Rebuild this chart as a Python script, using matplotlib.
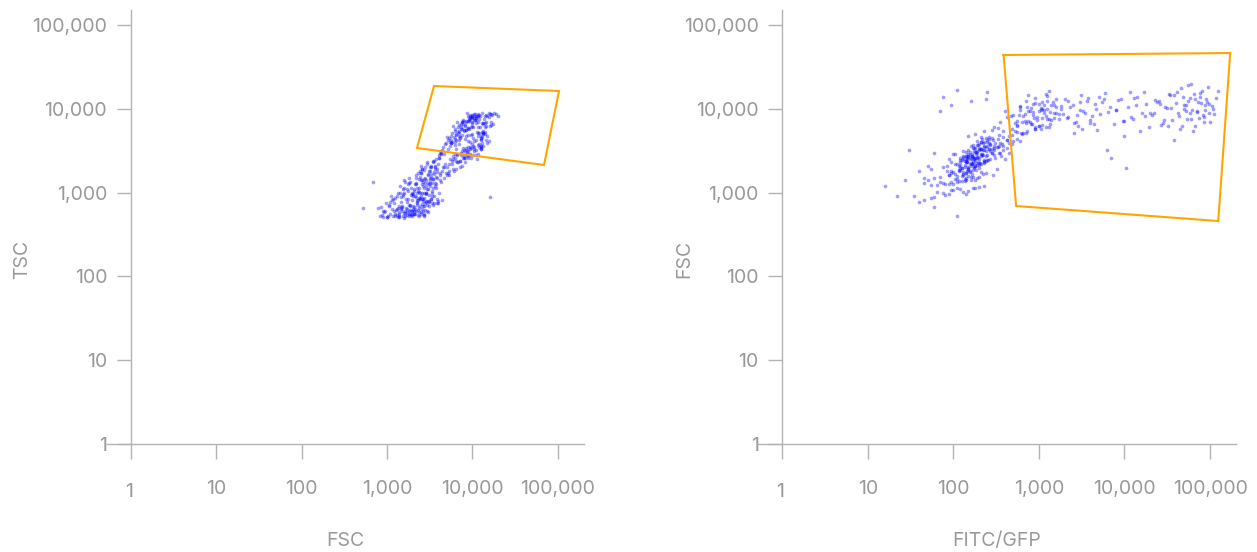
import numpy as np
import matplotlib
matplotlib.use("Agg")
import matplotlib.pyplot as plt
from matplotlib.ticker import NullLocator
from matplotlib.transforms import ScaledTranslation

plt.rcParams['font.family'] = ['Inter', 'DejaVu Sans']

# ---------------- data ----------------
# group A1: small events
a1_fsc = [820, 950, 1100, 880, 1050, 1180, 990, 1150, 900, 1020,
          1120, 860, 1080, 970, 1190, 930, 1060, 1010, 1140, 780]
a1_tsc = [520, 610, 780, 540, 700, 850, 510, 640, 600, 530,
          900, 680, 550, 760, 520, 590, 720, 505, 820, 650]
a1_fitc = [45, 90, 120, 60, 150, 200, 75, 110, 35, 130,
           170, 55, 95, 140, 230, 80, 100, 65, 180, 40]

# group A2
a2_fsc = [1250, 1320, 1400, 1480, 1550, 1620, 1700, 1780, 1860, 1950,
          1280, 1350, 1430, 1500, 1580, 1650, 1730, 1810, 1900, 1980,
          1220, 1380, 1460, 1530, 1600, 1680, 1760, 1840, 1920, 1300,
          1420, 1510, 1590, 1660, 1740, 1820, 1880, 1960, 1240, 1360,
          1450, 1540, 1630, 1710, 1790, 1870, 1940, 1260, 1390, 1570]
a2_tsc = [560, 900, 510, 650, 1100, 600, 540, 1250, 700, 820,
          620, 505, 980, 690, 570, 1350, 640, 520, 1150, 600,
          760, 580, 880, 530, 1400, 660, 1050, 550, 930, 640,
          1200, 610, 500, 850, 590, 1500, 720, 530, 530, 1000,
          640, 950, 570, 780, 1300, 620, 560, 870, 520, 1150]
a2_fitc = [80, 110, 140, 45, 170, 130, 95, 210, 150, 120,
           100, 70, 160, 190, 125, 105, 240, 145, 55, 175,
           55, 115, 135, 200, 90, 165, 155, 120, 320, 75,
           180, 140, 110, 220, 130, 95, 185, 150, 65, 125,
           105, 160, 290, 140, 115, 170, 200, 90, 135, 150]

# group A3
a3_fsc = [2020, 2080, 2150, 2210, 2280, 2350, 2420, 2490, 2560, 2640,
          2710, 2790, 2870, 2950, 2050, 2120, 2190, 2260, 2330, 2400,
          2470, 2540, 2610, 2690, 2770, 2850, 2930, 2000, 2100, 2230,
          2300, 2380, 2450, 2520, 2600, 2680, 2750, 2830, 2910, 2990,
          2060, 2170, 2240, 2320, 2440, 2500, 2580, 2660, 2740, 2820,
          2900, 2040, 2140, 2270, 2360, 2430, 2510, 2620, 2700, 2800,
          2880, 2960, 2200, 2550, 2720]
a3_tsc = [700, 1100, 560, 1500, 780, 650, 1800, 920, 740, 1350,
          860, 2000, 990, 600, 610, 1250, 1600, 720, 540, 1020,
          840, 1700, 690, 530, 1300, 780, 2200, 900, 560, 1000,
          620, 1450, 870, 580, 1900, 800, 540, 1200, 720, 1650,
          670, 1300, 820, 1050, 1550, 560, 1000, 600, 1850, 760,
          1400, 640, 910, 1150, 520, 990, 2100, 850, 700, 1500,
          960, 2300, 600, 1250, 550]
a3_fitc = [150, 180, 120, 210, 160, 95, 250, 140, 175, 190,
           130, 300, 165, 60, 85, 200, 155, 230, 145, 170,
           125, 270, 190, 150, 210, 105, 340, 135, 50, 185,
           140, 240, 120, 175, 310, 195, 150, 220, 100, 280,
           115, 165, 205, 145, 255, 90, 180, 130, 360, 215,
           150, 75, 190, 170, 135, 225, 400, 160, 140, 250,
           185, 450, 110, 200, 165]

# group A4
a4_fsc = [3050, 3150, 3250, 3350, 3450, 3560, 3670, 3780, 3900, 4020,
          4150, 4280, 4420, 3100, 3200, 3300, 3400, 3500, 3620, 3740,
          3860, 3980, 4100, 4230, 4370, 4480, 3080, 3180, 3280, 3380,
          3480, 3590, 3700, 3820, 3950, 4070, 4200, 4330, 4450, 3020,
          3220, 3420, 3640, 3880, 4120, 4350, 3320, 3530, 3760, 4000]
a4_tsc = [1100, 1800, 850, 1300, 2300, 750, 1900, 1250, 850, 2600,
          1400, 3000, 1800, 800, 1200, 1550, 900, 720, 2000, 1150,
          1750, 750, 2800, 1600, 3200, 2000, 780, 1300, 1650, 980,
          1450, 2400, 1200, 760, 2200, 1000, 1700, 2900, 820, 800,
          1400, 1150, 2100, 1900, 2600, 1350, 850, 1750, 2500, 800]
a4_fitc = [180, 240, 150, 210, 300, 160, 270, 200, 350, 230,
           190, 420, 260, 130, 220, 280, 170, 240, 380, 195,
           310, 210, 500, 250, 330, 280, 140, 200, 260, 175,
           230, 340, 190, 270, 450, 210, 290, 550, 240, 155,
           225, 180, 300, 260, 600, 215, 205, 320, 370, 250]

# group B: transition
b_fsc = [4600, 4800, 5000, 5200, 5500, 5800, 6100, 6400, 6800, 7200,
         7600, 8000, 8500, 9000, 9600, 10200, 11000, 4700, 4900, 5100,
         5400, 5700, 6000, 6300, 6600, 7000, 7400, 7800, 8300, 8800,
         9300, 9900, 10600, 11500, 12500, 4550, 5300, 5900, 6500, 7100,
         7700, 8200, 8700, 9400, 10000, 10800, 12000, 13500, 15000, 5600,
         6200, 6900, 7500, 8400, 9200, 10400, 11200, 13000, 14500, 16500,
         14000, 16800, 12500, 11000, 9500, 13000]
b_tsc = [1500, 3800, 2000, 4200, 2500, 5200, 1800, 3300, 6000, 2400,
         7000, 2600, 5600, 3100, 8000, 3600, 6800, 2900, 1700, 4600,
         2200, 4800, 1900, 5500, 2800, 6400, 3000, 7400, 2300, 5900,
         4000, 8300, 3100, 6900, 4500, 3500, 1600, 2700, 4300, 2000,
         3400, 6200, 2800, 7600, 5000, 8600, 3800, 6500, 8200, 3900,
         2600, 5100, 2100, 4700, 7200, 3300, 8100, 5300, 7000, 8700,
         6000, 8500, 4400, 7800, 3500, 8900]
b_fitc = [260, 450, 180, 620, 380, 900, 300, 1100, 520, 750,
          1300, 420, 850, 1600, 600, 1050, 1400, 150, 340, 700,
          230, 480, 1200, 560, 800, 350, 950, 1500, 650, 1150,
          400, 1800, 720, 1000, 1250, 210, 550, 330, 1350, 680,
          880, 470, 1700, 780, 1100, 600, 1450, 900, 1200, 280,
          1000, 640, 1250, 500, 860, 1600, 1150, 2000, 750, 1300,
          75, 110, 160, 95, 70, 240]

# group C: bright FITC/GFP events
c_fsc = [7800, 11000, 6200, 9500, 13500, 8200, 5600, 12000, 10500, 7000,
         14500, 9000, 6800, 11500, 8600, 15500, 12500, 5200, 9800, 7400,
         10000, 13000,
         9200, 6500, 12800, 4800, 10500, 7600, 14000, 8800, 11500, 6000,
         2600, 9600, 13000, 1950, 8000, 11000, 5400, 16000, 3200, 7200,
         8400, 12000, 6400, 10500, 15000, 7300, 11800, 5800, 13800, 9400,
         19000, 8800, 12500, 6700, 10200, 14500, 4200, 9000, 17500, 11000,
         7500, 13500,
         9800, 6200, 12200, 15500, 8400, 11000, 18000, 7000, 10000, 13500,
         5500, 9200, 14000, 8000, 11500, 16500]
c_tsc = [6500, 3200, 4400, 7900, 5000, 2600, 3900, 8400, 3500, 5400,
         4300, 7100, 2300, 6000, 3000, 8800, 4700, 3300, 6700, 2800,
         8000, 3900,
         5800, 4900, 3600, 2200, 7400, 3100, 8200, 4100, 5100, 2500,
         1400, 3400, 6800, 950, 5600, 4200, 1800, 6300, 2000, 4600,
         7000, 5200, 2400, 8600, 4800, 6100, 3700, 4000, 7600, 2900,
         8700, 5900, 3300, 6900, 4500, 8500, 3000, 2600, 6600, 7300,
         4900, 5500,
         3800, 5700, 8300, 4100, 7200, 2800, 8900, 4300, 6200, 3600,
         4000, 7700, 5300, 3200, 8100, 6400]
c_fitc = [2100, 2500, 2900, 3300, 3700, 4200, 4800, 5500, 2300, 2700,
          3100, 3500, 4000, 4500, 5200, 5900, 2200, 2600, 3000, 3900,
          4600, 5700,
          6500, 7500, 8500, 9800, 11000, 12500, 14000, 16000, 18000, 19500,
          7000, 8000, 9000, 10500, 12000, 13500, 15000, 17000, 6200, 10000,
          21000, 24000, 27000, 30000, 33000, 36000, 40000, 44000, 48000, 52000,
          56000, 22000, 25000, 28000, 31000, 34000, 38000, 42000, 46000, 50000,
          54000, 58000,
          62000, 67000, 72000, 77000, 82000, 88000, 94000, 100000, 108000, 116000,
          64000, 70000, 76000, 85000, 96000, 125000]

# group D1: more events in the main population
d1_fsc = [1350, 1700, 2100, 2500, 2900, 3300, 3700, 1550, 1900, 2300,
          2700, 3100, 3500, 3900, 1450, 1800, 2200, 2600, 3000, 3400,
          1650, 2000, 2400, 2800, 3200, 3600, 1500, 1850, 2250, 2650,
          3050, 3450, 1750, 2150, 2550, 2950, 3350, 1600, 1950, 2350,
          2750, 3150, 3550, 1400, 2050, 2450, 2850, 3250, 1300, 2600,
          1800, 2200, 3000, 3800, 2400, 2700, 1950, 2300, 3100, 2500]
d1_tsc = [650, 1100, 560, 1400, 800, 2000, 1300, 900, 540, 1700,
          1000, 700, 2400, 1500, 780, 600, 1250, 850, 1600, 1050,
          520, 950, 1150, 620, 1800, 900, 680, 1350, 760, 1200,
          580, 1450, 830, 640, 1900, 1100, 750, 1000, 600, 870,
          1450, 1250, 1650, 560, 1050, 700, 980, 2100, 540, 640,
          720, 880, 1300, 1550, 590, 1150, 1000, 810, 940, 1700]
d1_fitc = [95, 140, 180, 130, 210, 260, 170, 70, 150, 120,
           240, 190, 330, 220, 110, 85, 165, 145, 280, 200,
           130, 175, 230, 155, 300, 250, 60, 115, 200, 170,
           185, 420, 100, 135, 160, 350, 210, 90, 125, 195,
           140, 270, 230, 50, 160, 180, 215, 380, 45, 120,
           155, 105, 190, 480, 140, 165, 125, 230, 175, 150]

# group D2: more transition events
d2_fsc = [4300, 5200, 6100, 7100, 8200, 9500, 11000, 4900, 5800, 6800,
          7900, 9100, 10500, 12200, 5500, 6500, 7500, 8700, 10000, 11600,
          4600, 5400, 6300, 7300, 8400, 9800, 11300, 13200, 5000, 6000,
          7000, 8000, 9300, 10800, 12500, 14200, 5700, 6700, 7700, 8900,
          10300, 12000, 6400, 8600, 9600]
d2_tsc = [3100, 1700, 4600, 2400, 6400, 3300, 8000, 3900, 2200, 5300,
          2700, 7300, 4100, 6000, 3600, 1900, 6900, 2900, 8500, 4700,
          2000, 4500, 2900, 5800, 3400, 7800, 2500, 5100, 1600, 6300,
          3800, 5500, 2800, 8200, 3600, 6700, 4200, 2300, 7100, 4900,
          6100, 3500, 5000, 8800, 2600]
d2_fitc = [420, 650, 900, 560, 1200, 750, 1500, 480, 1050, 700,
           950, 1350, 600, 1100, 520, 820, 1700, 680, 1250, 900,
           380, 720, 1000, 1400, 580, 1150, 850, 1600, 640, 1300,
           780, 2200, 1000, 1800, 700, 1250, 900, 2600, 1100, 1500,
           800, 3000, 560, 1900, 1050]

# group D3: more bright events
d3_fsc = [8500, 12500, 6600, 10500, 7200, 13500, 9000, 11500, 6300, 14500,
          8200, 10000, 12500, 7600, 15000, 9400, 11800, 6900, 13200, 8800,
          10700, 5800, 14000, 9700, 16000, 8300, 12800, 7400, 10300, 15800,
          6200, 11200, 9000, 13000, 7800, 16500, 9600, 12000, 8600, 20000]
d3_tsc = [5600, 3400, 2900, 7700, 4500, 5100, 2700, 8600, 4000, 6200,
          3100, 7000, 4300, 5800, 3900, 8400, 2900, 4700, 6800, 3500,
          7400, 2400, 5000, 6100, 8700, 4400, 3300, 6600, 2800, 7900,
          3700, 5300, 8100, 4600, 2600, 6900, 4900, 7600, 3200, 8300]
d3_fitc = [2800, 3600, 4400, 6800, 9500, 13000, 20000, 26000, 32000, 38000,
           43000, 49000, 55000, 60000, 65000, 71000, 78000, 84000, 90000, 98000,
           105000, 3200, 5100, 8000, 11500, 17500, 23000, 29000, 35000, 41000,
           47000, 53000, 59000, 66000, 74000, 80000, 87000, 93000, 110000, 60000]

# scattered outliers
o_fsc = [520, 680, 16000, 1200, 1400, 3200, 1800, 900]
o_tsc = [650, 1340, 890, 600, 700, 1500, 560, 510]
o_fitc = [110, 60, 250, 16, 27, 30, 40, 22]

# gates
gate1_fsc = [3560, 103500, 69100, 2250]
gate1_tsc = [18700, 16300, 2135, 3405]
gate2_fitc = [386, 172000, 124700, 541]
gate2_fsc = [43850, 46300, 458, 692]

tick_values = [1, 10, 100, 1000, 10000, 100000]
tick_labels = ['1', '10', '100', '1,000', '10,000', '100,000']

# -------------------------------------------------------------
fsc_groups = [a1_fsc, a2_fsc, a3_fsc, a4_fsc, b_fsc, c_fsc, d1_fsc, d2_fsc, d3_fsc, o_fsc]
tsc_groups = [a1_tsc, a2_tsc, a3_tsc, a4_tsc, b_tsc, c_tsc, d1_tsc, d2_tsc, d3_tsc, o_tsc]
fitc_groups = [a1_fitc, a2_fitc, a3_fitc, a4_fitc, b_fitc, c_fitc, d1_fitc, d2_fitc, d3_fitc, o_fitc]
fs, ts, gs = [], [], []
for f, t, g in zip(fsc_groups, tsc_groups, fitc_groups):
    m = min(len(f), len(t), len(g))
    fs += list(f[:m]); ts += list(t[:m]); gs += list(g[:m])
fsc = np.array(fs, float)
tsc = np.array(ts, float)
fitc = np.array(gs, float)

W, H = 1257, 552
fig = plt.figure(figsize=(W / 100, H / 100), dpi=100)

AX_COL = '#b3b3b3'
LBL_COL = '#999999'
FS = 14
Y_BOT_PX, Y_TOP_PX = 444, 10
Y_TOP_LOG = 5.179


def make_axes(x0, x1, xlo, xhi):
    ax = fig.add_axes([x0 / W, (H - Y_BOT_PX) / H, (x1 - x0) / W, (Y_BOT_PX - Y_TOP_PX) / H])
    ax.set_xscale('log')
    ax.set_yscale('log')
    ax.set_xlim(10 ** xlo, 10 ** xhi)
    ax.set_ylim(1, 10 ** Y_TOP_LOG)
    ax.patch.set_alpha(0)
    for s in ('top', 'right'):
        ax.spines[s].set_visible(False)
    ax.spines['left'].set_position(('data', 1))
    for s in ('left', 'bottom'):
        ax.spines[s].set_color(AX_COL)
        ax.spines[s].set_linewidth(1.0)
    ax.set_xticks(tick_values, tick_labels)
    ax.set_yticks(tick_values, tick_labels)
    ax.xaxis.set_minor_locator(NullLocator())
    ax.yaxis.set_minor_locator(NullLocator())
    ax.tick_params(axis='x', length=10.8, width=1.0, color=AX_COL, pad=15,
                   labelsize=FS, labelcolor=LBL_COL)
    ax.tick_params(axis='y', length=10, width=1.0, color=AX_COL, pad=7,
                   labelsize=FS, labelcolor=LBL_COL)
    # the "1" label on the x axis sits slightly lower
    lbl = ax.get_xticklabels()[0]
    lbl.set_transform(lbl.get_transform() + ScaledTranslation(-2 / 100, -3 / 100, fig.dpi_scale_trans))
    return ax


def set_labels(ax, x0, x1, xlabel, ylabel, ylab_x):
    ax.set_xlabel(xlabel, fontsize=FS, color=LBL_COL, va='center')
    ax.xaxis.set_label_coords(0.5, (Y_BOT_PX - 541) / (Y_BOT_PX - Y_TOP_PX))
    ax.set_ylabel(ylabel, fontsize=FS, color=LBL_COL, va='center', rotation=90)
    ax.yaxis.set_label_coords((ylab_x - x0) / (x1 - x0), (Y_BOT_PX - 259) / (Y_BOT_PX - Y_TOP_PX))


DOT = dict(s=7, color='#0000ff', alpha=0.38, linewidths=0)
GATE = dict(color='#ffa500', lw=1.5, solid_joinstyle='miter')

# left panel: TSC vs FSC
L0, L1 = 106.7, 584.3
ax1 = make_axes(L0, L1, -0.281, 5.311)
ax1.scatter(fsc, tsc, **DOT)
ax1.plot(gate1_fsc + gate1_fsc[:1], gate1_tsc + gate1_tsc[:1], **GATE)
set_labels(ax1, L0, L1, 'FSC', 'TSC', 22)

# right panel: FSC vs FITC/GFP
R0, R1 = 758.0, 1235.7
ax2 = make_axes(R0, R1, -0.284, 5.300)
ax2.scatter(fitc, fsc, **DOT)
ax2.plot(gate2_fitc + gate2_fitc[:1], gate2_fsc + gate2_fsc[:1], **GATE)
set_labels(ax2, R0, R1, 'FITC/GFP', 'FSC', 684)

fig.savefig('out.png', dpi=100)
